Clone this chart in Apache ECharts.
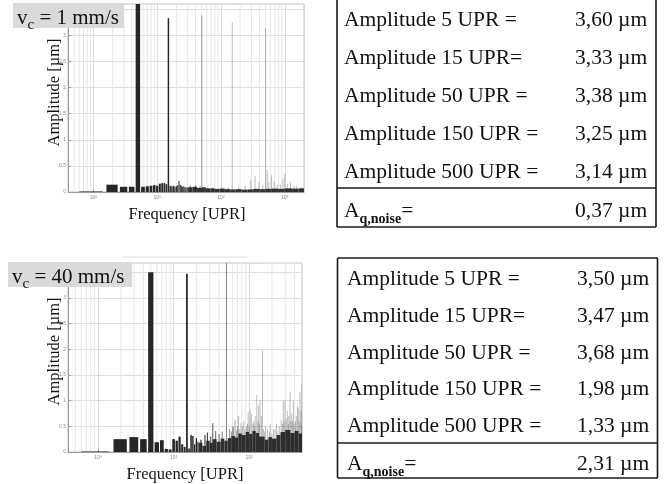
<!DOCTYPE html>
<html>
<head>
<meta charset="utf-8">
<title>Amplitude spectra</title>
<script src="https://cdn.jsdelivr.net/npm/echarts@6/dist/echarts.min.js"></script>
<style>
  html, body { margin: 0; padding: 0; background: #fff; }
  #chart { width: 667px; height: 484px; }
</style>
</head>
<body>
<div id="chart"></div>
<script>
// v_c = 1 mm/s : single lines of the spectrum (UPR, amplitude in µm)
var topFreq = [1, 2, 3, 4, 5, 6, 7, 8, 9, 10, 11, 12, 13, 14, 15, 16, 17, 18, 19, 20,
  21, 22, 23, 24, 25, 26, 27, 28, 29, 30,
  33, 40, 47, 50, 62, 75, 105, 130, 150, 190, 240, 293, 341, 394, 450, 500,
  530, 560, 620, 680, 760, 850, 940, 1000, 1100, 1230, 1400, 1530, 1800];
var topAmp = [0.01, 0.14, 0.10, 0.10, 3.60, 0.10, 0.11, 0.12, 0.13, 0.12, 0.16, 0.17, 0.17, 0.15, 3.33, 0.12, 0.11, 0.12, 0.10, 0.11,
  0.13, 0.21, 0.14, 0.12, 0.10, 0.11, 0.09, 0.10, 0.08, 0.09,
  0.12, 0.13, 0.11, 3.38, 0.10, 0.09, 0.09, 0.08, 3.25, 0.10, 0.12, 0.23, 0.31, 0.20, 0.14, 3.14,
  0.42, 0.18, 0.32, 0.20, 0.14, 0.15, 0.25, 0.35, 0.15, 0.19, 0.12, 0.11, 0.10];
// v_c = 1 mm/s : dense noise floor, bin edges in UPR (one edge more than values)
var topFloorEdges = [30.5, 36, 42, 50.5, 58, 68, 80, 95, 115, 140, 170, 210, 260, 320, 400, 500, 620, 780, 1000, 1300, 1650, 2000];
var topFloorAmp = [0.09, 0.10, 0.08, 0.09, 0.07, 0.07, 0.06, 0.065, 0.055, 0.05, 0.055, 0.045, 0.05, 0.06, 0.055, 0.06, 0.065, 0.06, 0.07, 0.065, 0.07];

// v_c = 40 mm/s
var bottomFreq = [1, 2, 3, 4, 5, 6, 7, 8, 9, 10, 11, 12, 13, 14, 15, 16, 17, 18, 19, 20, 21,
  23, 26, 28, 31, 33, 36, 40, 44, 50, 55, 58, 60, 62, 65, 68, 70, 72, 75, 78, 82, 85, 88, 92, 95, 97,
  100, 103, 107, 112, 115, 118, 120, 126, 130, 133, 137, 139, 145, 150, 155, 160, 165, 175, 185,
  190, 200, 210, 220, 230, 240, 250, 265, 275, 283, 290, 298, 310, 320, 330, 335, 347, 355, 365,
  375, 384, 395, 410, 420, 435, 447, 460, 470, 485, 490, 500];
var bottomAmp = [0.01, 0.25, 0.29, 0.25, 3.50, 0.19, 0.23, 0.06, 0.05, 0.25, 0.22, 0.30, 0.15, 0.10, 3.47, 0.07, 0.33, 0.31, 0.15, 0.27, 0.20,
  0.24, 0.33, 0.38, 0.30, 0.56, 0.41, 0.35, 0.40, 3.68, 0.45, 0.40, 0.50, 0.48, 0.62, 0.42, 0.50, 0.70, 0.45, 0.56, 0.50, 0.60, 0.45, 0.50, 0.55, 0.78,
  0.50, 0.81, 0.75, 0.55, 0.60, 0.50, 0.70, 1.11, 0.60, 0.90, 0.55, 1.01, 0.70, 1.98, 0.45, 0.40, 0.50, 0.45, 0.40,
  0.55, 0.35, 0.45, 0.45, 0.55, 0.40, 0.50, 0.62, 0.55, 1.00, 0.60, 1.00, 0.65, 0.80, 0.55, 0.70, 1.17, 0.60, 0.75,
  0.60, 1.00, 0.55, 0.60, 0.70, 0.90, 0.85, 0.60, 1.17, 0.80, 0.55, 1.33];
var bottomFloorEdges = [21.5, 24, 27, 30, 33, 37, 42, 47, 52, 58, 65, 72, 80, 90, 100, 110, 122, 135, 160, 180, 200, 230, 260, 300, 350, 400, 450, 500];
var bottomFloorAmp = [0.18, 0.12, 0.22, 0.18, 0.25, 0.20, 0.26, 0.22, 0.27, 0.31, 0.28, 0.36, 0.33, 0.39, 0.35, 0.41, 0.37, 0.30, 0.24, 0.29, 0.26, 0.33, 0.39, 0.43, 0.37, 0.41, 0.36];

// tables
var rowLabels = ['Amplitude 5 UPR =', 'Amplitude 15 UPR=', 'Amplitude 50 UPR =', 'Amplitude 150 UPR =', 'Amplitude 500 UPR ='];
var topValues = ['3,60 µm', '3,33 µm', '3,38 µm', '3,25 µm', '3,14 µm'];
var topNoise = '0,37 µm';
var bottomValues = ['3,50 µm', '3,47 µm', '3,68 µm', '1,98 µm', '1,33 µm'];
var bottomNoise = '2,31 µm';

var SERIF = 'Liberation Serif';

// minor log grid lines 2..9 of every decade
var gridFreqs = [];
for (var k = -1; k <= 3; k++) {
  for (var m = 2; m <= 9; m++) gridFreqs.push(m * Math.pow(10, k));
}

function pairs(xs, ys) {
  var out = [];
  for (var i = 0; i < xs.length; i++) out.push([xs[i], ys[i]]);
  return out;
}
function bins(edges, amps) {
  var out = [];
  for (var i = 0; i < amps.length; i++) out.push([edges[i], edges[i + 1], amps[i]]);
  return out;
}

// bar of width 0.8 UPR, at least one pixel wide (lighter when thinner)
function peakItem(params, api) {
  var f = api.value(0), a = api.value(1);
  var lo = api.coord([f - 0.4, 0]);
  var hi = api.coord([f + 0.4, a]);
  var w = hi[0] - lo[0];
  var dw = Math.max(w, 1);
  var mid = (lo[0] + hi[0]) / 2;
  var rect = echarts.graphic.clipRectByRect({
    x: mid - dw / 2, y: hi[1], width: dw, height: lo[1] - hi[1]
  }, params.coordSys);
  if (!rect) return null;
  return { type: 'rect', shape: rect, style: { fill: '#262626', opacity: Math.max(0.3, Math.min(1, w)) } };
}
function floorItem(params, api) {
  var lo = api.coord([api.value(0), 0]);
  var hi = api.coord([api.value(1), api.value(2)]);
  var rect = echarts.graphic.clipRectByRect({
    x: lo[0], y: hi[1], width: hi[0] - lo[0], height: lo[1] - hi[1]
  }, params.coordSys);
  if (!rect) return null;
  return { type: 'rect', shape: rect, style: { fill: '#333' } };
}
function gridItem(params, api) {
  var x = api.coord([api.value(0), 0])[0];
  var cs = params.coordSys;
  if (x <= cs.x + 0.5 || x >= cs.x + cs.width - 0.5) return null;
  return { type: 'line', shape: { x1: x, y1: cs.y, x2: x, y2: cs.y + cs.height }, style: { stroke: '#e6e6e6', lineWidth: 1 } };
}

function freqAxis(gi, max) {
  return {
    type: 'log', logBase: 10, gridIndex: gi, min: 0.4, max: max,
    axisLine: { show: true, lineStyle: { color: '#9a9a9a', width: 1 } },
    axisTick: { show: true, inside: true, length: 3, lineStyle: { color: '#9a9a9a' } },
    splitLine: { show: true, lineStyle: { color: '#dadada', width: 1 } },
    axisLabel: {
      margin: 3, color: '#8a8a8a', fontSize: 5, fontFamily: 'Liberation Sans',
      showMinLabel: false, showMaxLabel: false,
      formatter: function (v) {
        var e = Math.log10(v), r = Math.round(e);
        if (Math.abs(e - r) > 0.001) return '';
        return '{b|10}{e|' + r + '}';
      },
      rich: {
        b: { fontSize: 5, color: '#8a8a8a', fontFamily: 'Liberation Sans' },
        e: { fontSize: 3.5, color: '#8a8a8a', verticalAlign: 'top', fontFamily: 'Liberation Sans' }
      }
    }
  };
}
function ampAxis(gi, max) {
  return {
    type: 'value', gridIndex: gi, min: 0, max: max, interval: 0.5,
    axisLine: { show: true, lineStyle: { color: '#9a9a9a', width: 1 } },
    axisTick: { show: true, inside: true, length: 3, lineStyle: { color: '#9a9a9a' } },
    splitLine: { show: true, lineStyle: { color: '#dedede', width: 1 } },
    axisLabel: { margin: 2, fontSize: 5, color: '#8a8a8a', fontFamily: 'Liberation Sans', showMaxLabel: false }
  };
}

function speedLabel(x, y, w, h, speed) {
  return [
    { type: 'rect', z: 100, shape: { x: x, y: y, width: w, height: h }, style: { fill: '#dadada' } },
    { type: 'text', z: 101, x: x + 4, y: y + 15, style: {
        text: '{m|v}{s|c}{m| = ' + speed + '}', verticalAlign: 'middle',
        rich: {
          m: { fontSize: 21, fontFamily: SERIF, fill: '#111', lineHeight: 30 },
          s: { fontSize: 15, fontFamily: SERIF, fill: '#111', lineHeight: 16, verticalAlign: 'bottom' }
        }
    } }
  ];
}

function table(left, right, top, sepY, bottom, firstY, step, noiseY, textX, valX, values, noise) {
  var line = function (x1, y1, x2, y2) {
    return { type: 'line', z: 100, shape: { x1: x1, y1: y1, x2: x2, y2: y2 }, style: { stroke: '#1a1a1a', lineWidth: 1.6 } };
  };
  var els = [line(left, top, left, bottom), line(right, top, right, bottom),
    line(left, bottom, right, bottom), line(left, sepY, right, sepY)];
  if (top > 0) els.push(line(left, top, right, top));
  var font = { fontSize: 21.5, fontFamily: SERIF, fill: '#111', verticalAlign: 'middle' };
  for (var i = 0; i < rowLabels.length; i++) {
    els.push({ type: 'text', z: 101, x: textX, y: firstY + i * step, style: Object.assign({ text: rowLabels[i] }, font) });
    els.push({ type: 'text', z: 101, x: valX, y: firstY + i * step, style: Object.assign({ text: values[i] }, font) });
  }
  els.push({ type: 'text', z: 101, x: textX, y: noiseY, style: {
    text: '{a|A}{s|q,noise}{a|=}', verticalAlign: 'middle',
    rich: {
      a: { fontSize: 21.5, fontFamily: SERIF, fill: '#111', lineHeight: 30 },
      s: { fontSize: 14, fontWeight: 'bold', fontFamily: SERIF, fill: '#111', lineHeight: 19, verticalAlign: 'bottom' }
    }
  } });
  els.push({ type: 'text', z: 101, x: valX, y: noiseY, style: Object.assign({ text: noise }, font) });
  return els;
}

function axisTitles(cx, cy, ax, ay) {
  return [
    { type: 'text', z: 50, x: cx, y: cy, style: { text: 'Frequency [UPR]', fontSize: 16.5, fontFamily: SERIF, fill: '#111', align: 'center', verticalAlign: 'middle' } },
    { type: 'text', z: 50, x: ax, y: ay, rotation: Math.PI / 2, style: { text: 'Amplitude [µm]', fontSize: 16.5, fontFamily: SERIF, fill: '#111', align: 'center', verticalAlign: 'middle' } }
  ];
}

var graphics = []
  .concat(speedLabel(13, 3, 111, 25, '1 mm/s'))
  .concat(speedLabel(8, 262, 124, 25, '40 mm/s'))
  .concat(axisTitles(187, 214.5, 54.5, 92.5))
  .concat(axisTitles(185, 475, 54.5, 351.5))
  .concat(table(337, 656, -5, 188, 227, 20, 38.2, 211, 344, 575, topValues, topNoise))
  .concat(table(337.5, 657.5, 258, 443, 478, 279.5, 36.7, 464.5, 347, 577, bottomValues, bottomNoise));
graphics.push({ type: 'line', z: 5, shape: { x1: 122, y1: 257, x2: 247, y2: 257 }, style: { stroke: '#e2e2e2', lineWidth: 1 } });

var gridStyle = { show: true, borderColor: '#c4c4c4', borderWidth: 1, backgroundColor: '#fff', containLabel: false, outerBoundsMode: 'none' };

var option = {
  animation: false,
  backgroundColor: '#fff',
  textStyle: { fontFamily: SERIF },
  grid: [
    Object.assign({ left: 68, top: 4, width: 236, height: 188 }, gridStyle),
    Object.assign({ left: 68, top: 263, width: 234, height: 189 }, gridStyle)
  ],
  xAxis: [freqAxis(0, 2000), freqAxis(1, 500)],
  yAxis: [ampAxis(0, 3.6), ampAxis(1, 3.68)],
  series: [
    { type: 'custom', xAxisIndex: 0, yAxisIndex: 0, z: 1, silent: true, renderItem: gridItem, data: pairs(gridFreqs, gridFreqs.map(function () { return 0; })) },
    { type: 'custom', xAxisIndex: 0, yAxisIndex: 0, z: 3, silent: true, renderItem: floorItem, encode: { x: [0, 1], y: 2 }, data: bins(topFloorEdges, topFloorAmp) },
    { type: 'custom', xAxisIndex: 0, yAxisIndex: 0, z: 4, silent: true, renderItem: peakItem, data: pairs(topFreq, topAmp) },
    { type: 'custom', xAxisIndex: 1, yAxisIndex: 1, z: 1, silent: true, renderItem: gridItem, data: pairs(gridFreqs, gridFreqs.map(function () { return 0; })) },
    { type: 'custom', xAxisIndex: 1, yAxisIndex: 1, z: 3, silent: true, renderItem: floorItem, encode: { x: [0, 1], y: 2 }, data: bins(bottomFloorEdges, bottomFloorAmp) },
    { type: 'custom', xAxisIndex: 1, yAxisIndex: 1, z: 4, silent: true, renderItem: peakItem, data: pairs(bottomFreq, bottomAmp) }
  ],
  graphic: graphics
};

var chart = echarts.init(document.getElementById('chart'));
chart.setOption(option);
</script>
</body>
</html>
